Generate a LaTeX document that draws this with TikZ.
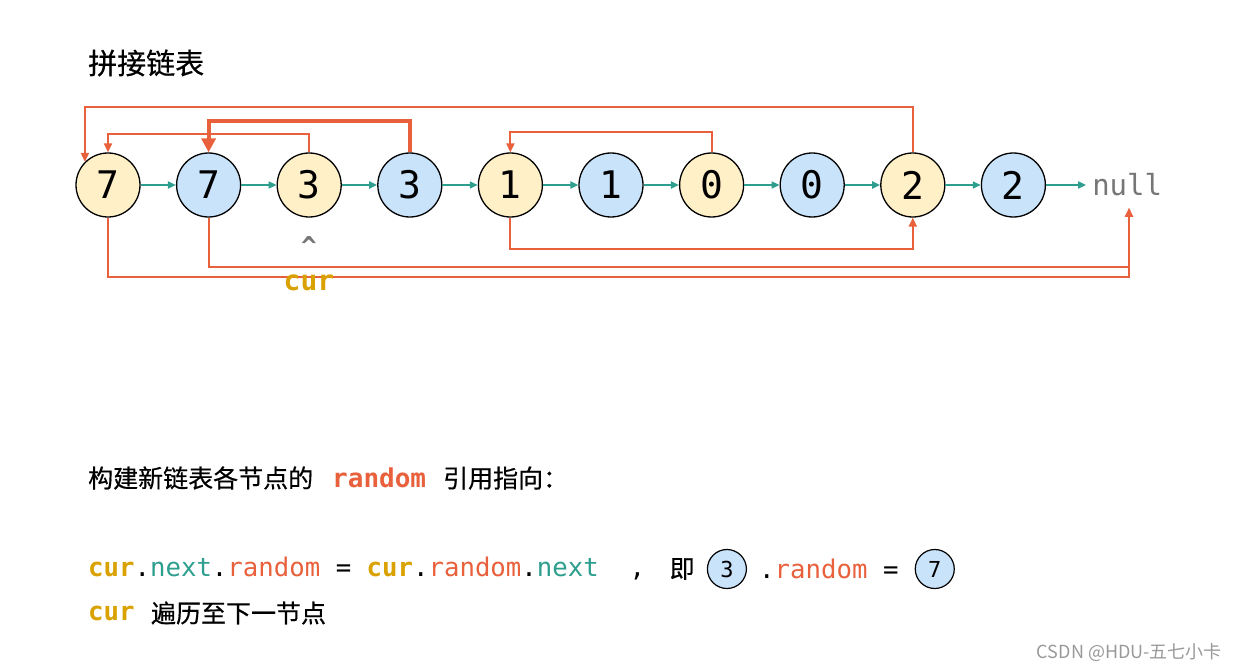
\documentclass[tikz,border=0pt]{standalone}
\usepackage{fontspec}
\setmonofont{DejaVu Sans Mono}
\newfontfamily\cjk[FakeBold=0.5]{Noto Sans CJK SC}
\newfontfamily\cjklight{Noto Sans CJK SC}
\usetikzlibrary{positioning, arrows.meta}

\definecolor{nodeY}{HTML}{FFF0C8}
\definecolor{nodeB}{HTML}{C9E3FB}
\definecolor{nxtC}{HTML}{2E9E8E}
\definecolor{rndC}{HTML}{E8603C}
\definecolor{curC}{HTML}{D9A200}
\definecolor{nulC}{HTML}{767676}

\tikzset{
	lnode/.style={draw, circle, line width=1.3pt, minimum size=64pt, inner sep=0, font=\fontsize{38}{40}\selectfont\ttfamily},
	onode/.style={lnode, fill=nodeY},
	cnode/.style={lnode, fill=nodeB},
	snode/.style={cnode, minimum size=39pt, line width=1.2pt, font=\fontsize{22}{24}\selectfont\ttfamily},
	nxt/.style={draw=nxtC, line width=2pt, -{Triangle[width=7pt,length=8pt]}},
	rnd/.style={draw=rndC, line width=2pt, -{Triangle[width=8pt,length=9pt]}},
	code/.style={inner sep=0, anchor=west, font=\fontsize{25.7}{30}\selectfont\ttfamily},
	txt/.style={inner sep=0, anchor=west, font=\fontsize{25}{30}\selectfont\cjk},
}

\begin{document}
\begin{tikzpicture}[x=1pt, y=-1pt, node distance=35.3pt]
	\useasboundingbox (0,0) rectangle (1237,671);
	
	\node[txt, font=\fontsize{29}{30}\selectfont\cjk] (title) at (88,63) {拼接链表};
	
	% linked list
	\node[onode] (o1) at (108,185) {7};
	\node[cnode, right=of o1] (c1) {7};
	\node[onode, right=of c1] (o2) {3};
	\node[cnode, right=of o2] (c2) {3};
	\node[onode, right=of c2] (o3) {1};
	\node[cnode, right=of o3] (c3) {1};
	\node[onode, right=of c3] (o4) {0};
	\node[cnode, right=of o4] (c4) {0};
	\node[onode, right=of c4] (o5) {2};
	\node[cnode, right=of o5] (c5) {2};
	\node[right=40pt of c5, inner sep=6pt, text=nulC, font=\fontsize{29}{30}\selectfont\ttfamily] (null) {null};
	
	\foreach \a/\b in {o1/c1, c1/o2, o2/c2, c2/o3, o3/c3, c3/o4, o4/c4, c4/o5, o5/c5, c5/null}
		\draw[nxt] (\a) -- (\b);
	
	% random pointers
	\draw[rnd] (o5.north) -- ++(0,-45) -| (o1.north west);
	\draw[rnd] (o2.north) -- ++(0,-18) -| (o1.north);
	\draw[rnd, line width=4pt, -{Triangle[width=14pt,length=14pt]}] (c2.north) -- ++(0,-31) -| (c1.north);
	\draw[rnd] (o4.north) -- ++(0,-20) -| (o3.north);
	\draw[rnd] (o3.south) -- ++(0,31) -| (o5.south);
	\coordinate (nulEnd) at (1129,208);
	\draw[rnd] (c1.south) -- ++(0,49) -| (nulEnd);
	\draw[rnd] (o1.south) -- ++(0,59) -| (nulEnd);
	
	\node[text=nulC, font=\fontsize{26}{30}\selectfont\ttfamily\bfseries] (hat) at (309,246) {\textasciicircum};
	\node[text=curC, font=\fontsize{28}{30}\selectfont\ttfamily\bfseries] (cur) at (309,283) {cur};
	
	% explanation
	\node[txt] (head) at (88,478) {构建新链表各节点的\hspace{19pt}{\fontsize{26}{30}\selectfont\ttfamily\bfseries\color{rndC}random}\hspace{17pt}引用指向：};
	
	\node[code] (expr) at (88,569) {{\bfseries\color{curC}cur}.{\color{nxtC}next}.{\color{rndC}random} = {\bfseries\color{curC}cur}.{\color{rndC}random}.{\color{nxtC}next}\ \ ,};
	\node[txt, right=24pt of expr] (ie) {即};
	\node[snode, right=12pt of ie] (r3) {3};
	\node[code, right=12pt of r3] (dot) {.{\color{rndC}random} =};
	\node[snode, right=16pt of dot] (r7) {7};
	
	\node[code, font=\fontsize{25.7}{30}\selectfont\ttfamily\bfseries, text=curC] (cur2) at (88,613) {cur};
	\node[txt, right=16pt of cur2] (walk) {遍历至下一节点};
	
	\node[anchor=east, inner sep=0, text=black!40, font=\fontsize{18}{20}\selectfont\cjklight] (wm) at (1222,652) {CSDN @HDU-五七小卡};
\end{tikzpicture}
\end{document}
